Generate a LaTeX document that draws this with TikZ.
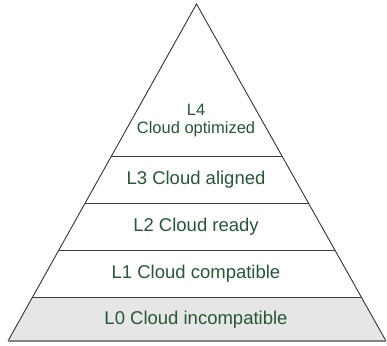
\documentclass[tikz,border=0pt]{standalone}
\usepackage{fontspec}
\setmainfont{Liberation Sans}
\usetikzlibrary{calc}
\definecolor{txtgreen}{RGB}{38,88,52}
\definecolor{bandgray}{RGB}{230,230,230}
\definecolor{edgegray}{RGB}{60,60,60}
\definecolor{basegray}{RGB}{130,130,130}
\tikzset{
  lbl/.style={text=txtgreen, font=\fontsize{18.5}{22}\selectfont, inner sep=0pt, anchor=center},
  toplbl/.style={text=txtgreen, font=\fontsize{16.5}{18.5}\selectfont, inner sep=0pt, align=center, anchor=center},
  divider/.style={draw=edgegray, line width=0.9pt},
  side/.style={draw=black!80, line width=0.9pt},
  baseline/.style={draw=basegray, line width=2pt}
}
\begin{document}
\begin{tikzpicture}[x=1pt,y=-1pt]
\useasboundingbox (0,0) rectangle (387,345);
\coordinate (A) at (196.5,4);
\coordinate (BL) at (8,341);
\coordinate (BR) at (386,341);
% divider end points
\coordinate (l4) at ($(A)!0.4510!(BL)$);
\coordinate (r4) at ($(A)!0.4510!(BR)$);
\coordinate (l3) at ($(A)!0.5905!(BL)$);
\coordinate (r3) at ($(A)!0.5905!(BR)$);
\coordinate (l2) at ($(A)!0.7300!(BL)$);
\coordinate (r2) at ($(A)!0.7300!(BR)$);
\coordinate (l1) at ($(A)!0.8694!(BL)$);
\coordinate (r1) at ($(A)!0.8694!(BR)$);
% L0 band fill
\fill[bandgray] (l1) -- (r1) -- (BR) -- (BL) -- cycle;
% dividers
\draw[divider] (l4) -- (r4);
\draw[divider] (l3) -- (r3);
\draw[divider] (l2) -- (r2);
\draw[divider] (l1) -- (r1);
% sides and base
\draw[side] (BL) -- (A) -- (BR);
\draw[baseline] (BL) -- (BR);
% labels
\node[toplbl] (t4) at (196,120.5) {L4\\Cloud optimized};
\node[lbl] (t3) at (196,180) {L3 Cloud aligned};
\node[lbl] (t2) at (196,226.5) {L2 Cloud ready};
\node[lbl] (t1) at (196,273.5) {L1 Cloud compatible};
\node[lbl] (t0) at (196,319.5) {L0 Cloud incompatible};
\end{tikzpicture}
\end{document}
